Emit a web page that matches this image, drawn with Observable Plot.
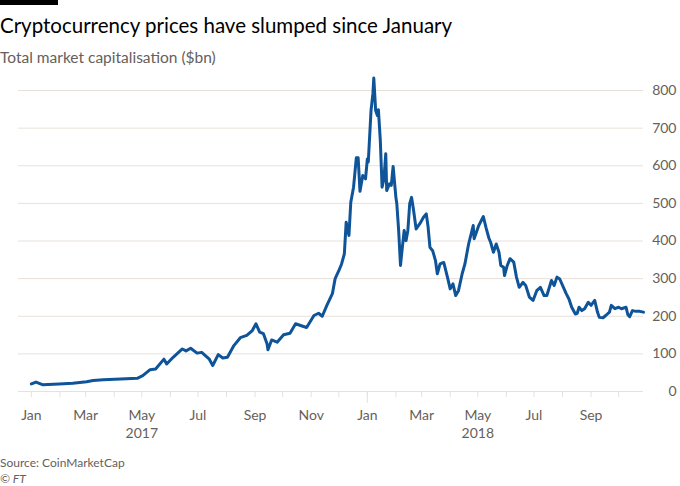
<!DOCTYPE html>
<html>
<head>
<meta charset="utf-8">
<script src="https://cdn.jsdelivr.net/npm/d3@7"></script>
<script src="https://cdn.jsdelivr.net/npm/@observablehq/plot@0.6"></script>
<style>
  html, body { margin: 0; padding: 0; background: #fff; }
  body { width: 680px; height: 486px; position: relative; overflow: hidden; font-family: Lato, "Open Sans", sans-serif; }
  #bar { position: absolute; left: 0; top: 0; width: 58px; height: 5px; background: #000; }
  #title { position: absolute; left: 0; top: 13px; font-size: 20.5px; line-height: 24px; color: #000; white-space: nowrap; }
  #subtitle { position: absolute; left: 0; top: 48px; font-size: 15.5px; line-height: 18px; color: #66605c; white-space: nowrap; }
  #chart { position: absolute; left: 0; top: 70px; }
  #source { position: absolute; left: 0; top: 455px; font-size: 12px; line-height: 16px; color: #66605c; }
  #ft { position: absolute; left: 0; top: 471px; font-size: 12px; line-height: 16px; color: #66605c; font-style: italic; }
</style>
</head>
<body>
<div id="bar"></div>
<div id="title">Cryptocurrency prices have slumped since January</div>
<div id="subtitle">Total market capitalisation ($bn)</div>
<div id="chart"></div>
<div id="source">Source: CoinMarketCap</div>
<div id="ft">© FT</div>
<script>
const dates = [
"2017-01-01","2017-01-06","2017-01-13","2017-01-31","2017-02-15","2017-03-02","2017-03-09","2017-03-20","2017-04-08","2017-04-26",
"2017-05-02","2017-05-10","2017-05-16","2017-05-25","2017-05-28","2017-06-04","2017-06-14","2017-06-18","2017-06-23","2017-06-30",
"2017-07-05","2017-07-13","2017-07-17","2017-07-23","2017-07-28","2017-08-02","2017-08-09","2017-08-16","2017-08-23","2017-08-29",
"2017-09-02","2017-09-06","2017-09-10","2017-09-14","2017-09-15","2017-09-19","2017-09-25","2017-10-02","2017-10-09","2017-10-15",
"2017-10-22","2017-10-27","2017-11-04","2017-11-09","2017-11-13","2017-11-18","2017-11-24","2017-11-27","2017-12-01","2017-12-04",
"2017-12-07","2017-12-09","2017-12-12","2017-12-14","2017-12-17","2017-12-20","2017-12-22","2017-12-24","2017-12-27","2017-12-30",
"2018-01-01","2018-01-02","2018-01-05","2018-01-07","2018-01-08","2018-01-10","2018-01-12","2018-01-13","2018-01-15","2018-01-17",
"2018-01-19","2018-01-21","2018-01-22","2018-01-25","2018-01-27","2018-01-29","2018-02-01","2018-02-02","2018-02-04","2018-02-06",
"2018-02-08","2018-02-10","2018-02-12","2018-02-14","2018-02-16","2018-02-18","2018-02-20","2018-02-23","2018-02-27","2018-03-03",
"2018-03-06","2018-03-08","2018-03-10","2018-03-13","2018-03-16","2018-03-18","2018-03-21","2018-03-25","2018-03-29","2018-04-01",
"2018-04-04","2018-04-07","2018-04-10","2018-04-14","2018-04-17","2018-04-21","2018-04-26","2018-04-27","2018-05-02","2018-05-07",
"2018-05-10","2018-05-13","2018-05-15","2018-05-18","2018-05-21","2018-05-24","2018-05-26","2018-05-29","2018-05-30","2018-06-02",
"2018-06-05","2018-06-09","2018-06-12","2018-06-15","2018-06-19","2018-06-22","2018-06-26","2018-06-30","2018-07-04","2018-07-08",
"2018-07-12","2018-07-15","2018-07-20","2018-07-23","2018-07-26","2018-07-29","2018-08-02","2018-08-05","2018-08-08","2018-08-11",
"2018-08-15","2018-08-17","2018-08-19","2018-08-22","2018-08-25","2018-08-29","2018-09-01","2018-09-05","2018-09-08","2018-09-10",
"2018-09-14","2018-09-17","2018-09-21","2018-09-23","2018-09-27","2018-10-01","2018-10-04","2018-10-09","2018-10-11","2018-10-13",
"2018-10-16","2018-10-20","2018-10-24","2018-10-28"
];
const marketCap = [
20,25,18,20,22,26,29,31,33,35,
42,58,60,86,73,91,113,108,115,102,
104,87,69,98,89,91,122,143,149,162,
180,158,154,127,111,137,131,151,155,180,
174,170,202,208,200,229,260,300,321,339,
366,450,415,503,543,621,621,532,574,565,
618,610,747,791,833,747,733,749,671,543,
565,632,534,552,548,598,516,499,428,335,
383,428,401,428,499,516,485,432,446,463,
472,437,383,374,348,313,339,343,304,273,
286,255,268,313,339,392,441,406,441,465,
435,408,396,370,392,370,335,330,308,335,
353,344,304,277,290,282,251,242,268,277,
255,255,295,282,304,299,277,260,246,224,
206,208,224,215,220,237,229,242,211,197,
196,202,211,229,220,224,220,224,204,199,
215,213,213,211
];
const yTicks = [0, 100, 200, 300, 400, 500, 600, 700, 800];
const xDomain = ["2016-12-18", "2018-10-28"];
const monthTicks = d3.utcMonth.range(new Date("2017-01-01"), new Date("2018-10-02"));
const labelTicks = monthTicks.filter((d, i) => i % 2 === 0);
const yearTicks = ["2017-05-01", "2018-05-01"];
const yearBreak = ["2018-01-01"];

const data = dates.map((d, i) => ({date: new Date(d), value: marketCap[i]}));

const grid = "#e8e1da";
const textColor = "#66605c";

const chart = Plot.plot({
  width: 680,
  height: 380,
  marginLeft: 18,
  marginRight: 37,
  marginTop: 20,
  marginBottom: 59,
  style: {fontFamily: "Lato, 'Open Sans', sans-serif", fontSize: "14px", background: "transparent", overflow: "visible"},
  x: {type: "utc", domain: xDomain.map(d => new Date(d))},
  y: {domain: [0, 800]},
  marks: [
    Plot.ruleY(yTicks, {stroke: grid, strokeWidth: 1}),
    Plot.axisY(yTicks, {anchor: "right", tickSize: 0, tickPadding: 0, textAnchor: "end", dx: 33, fill: textColor, label: null, fontSize: 14}),
    Plot.axisX(monthTicks, {tickSize: 6, stroke: grid, tickFormat: () => "", label: null}),
    Plot.axisX(yearBreak.map(d => new Date(d)), {tickSize: 12, stroke: grid, tickFormat: () => "", label: null}),
    Plot.axisX(labelTicks, {tickSize: 0, tickPadding: 19, tickFormat: d3.utcFormat("%b"), fill: textColor, label: null, fontSize: 14}),
    Plot.axisX(yearTicks.map(d => new Date(d)), {tickSize: 0, tickPadding: 37, tickFormat: d3.utcFormat("%Y"), fill: textColor, label: null, fontSize: 14}),
    Plot.lineY(data, {x: "date", y: "value", stroke: "#0f5499", strokeWidth: 3, strokeLinejoin: "round", strokeLinecap: "round"})
  ]
});
document.getElementById("chart").appendChild(chart);
</script>
</body>
</html>
